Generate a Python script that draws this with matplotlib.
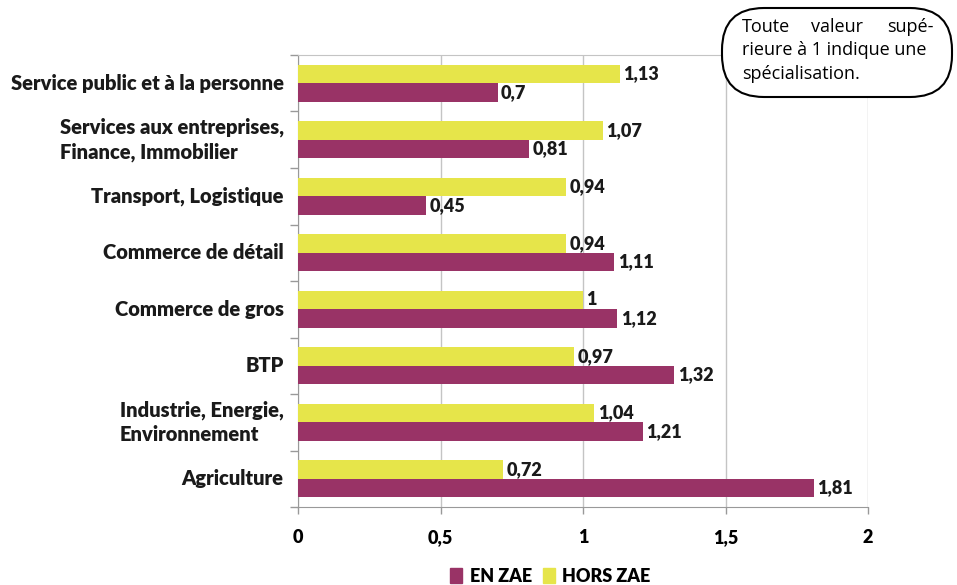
import matplotlib.pyplot as plt
from matplotlib.patches import FancyBboxPatch, Patch

categories = [
    "Service public et à la personne",
    "Services aux entreprises,\nFinance, Immobilier",
    "Transport, Logistique",
    "Commerce de détail",
    "Commerce de gros",
    "BTP",
    "Industrie, Energie,\nEnvironnement",
    "Agriculture",
]
hors_zae = [1.13, 1.07, 0.94, 0.94, 1, 0.97, 1.04, 0.72]
en_zae = [0.7, 0.81, 0.45, 1.11, 1.12, 1.32, 1.21, 1.81]
xticks = [0, 0.5, 1, 1.5, 2]
xtick_labels = ["0", "0,5", "1", "1,5", "2"]

MAGENTA = "#993366"
YELLOW = "#e6e54a"
GRID = "#c4c4c4"
FONT = ["Lato", "DejaVu Sans"]


def fmt(v: float) -> str:
    return f"{v:g}".replace(".", ",")


fig = plt.figure(figsize=(9.57, 5.85), dpi=100)
ax = fig.add_axes([0.3114, 0.1333, 0.5956, 0.7727])

h = 0.33
pos = list(range(len(categories)))
ax.barh([p - h / 2 for p in pos], hors_zae, height=h, color=YELLOW, zorder=3)
ax.barh([p + h / 2 for p in pos], en_zae, height=h, color=MAGENTA, zorder=3)

for p, v in zip(pos, hors_zae):
    ax.text(v + 0.012, p - h / 2, fmt(v), va="center", ha="left",
            fontsize=13, fontweight="heavy", family=FONT, color="#1a1a1a")
for p, v in zip(pos, en_zae):
    ax.text(v + 0.012, p + h / 2, fmt(v), va="center", ha="left",
            fontsize=13, fontweight="heavy", family=FONT, color="#1a1a1a")

ax.set_xlim(0, 2)
ax.set_ylim(len(categories) - 0.5, -0.5)
ax.set_xticks(xticks)
ax.set_xticklabels(xtick_labels, fontsize=13, fontweight="heavy", family=FONT)
ax.set_yticks(pos)
ax.set_yticklabels([])
ax.set_yticks([p - 0.5 for p in range(len(categories) + 1)], minor=True)
ax.tick_params(axis="y", which="major", length=0)
ax.tick_params(axis="y", which="minor", length=6, color="#999999", width=1)
ax.tick_params(axis="x", length=5, color="#999999", width=1, pad=11)

for p, c in zip(pos, categories):
    ax.text(-0.05, p, c, ha="right", va="center", multialignment="left",
            fontsize=14.5, fontweight="heavy", family=FONT, color="#1a1a1a",
            linespacing=1.3)

ax.grid(axis="x", color=GRID, linewidth=1, zorder=0)
ax.spines["right"].set_visible(False)
ax.spines["top"].set_color(GRID)
ax.spines["left"].set_color("#999999")
ax.spines["bottom"].set_color("#999999")

handles = [Patch(color=MAGENTA, label="EN ZAE"), Patch(color=YELLOW, label="HORS ZAE")]
fig.legend(handles=handles, loc="center", bbox_to_anchor=(0.575, 0.015), ncol=2,
           frameon=False, handlelength=0.7, handleheight=0.9, handletextpad=0.4,
           columnspacing=0.6, prop={"family": FONT, "weight": "heavy", "size": 13})

# note box, drawn in inches from the bottom-left corner
box = FancyBboxPatch((7.22, 4.88), 2.30, 0.89, transform=fig.dpi_scale_trans,
                     boxstyle="round,pad=0,rounding_size=0.42",
                     facecolor="white", edgecolor="black", linewidth=1.5, zorder=5)
fig.add_artist(box)
note_kw = dict(va="center", fontsize=13, family="Open Sans", zorder=6,
               transform=fig.dpi_scale_trans)
fig.text(7.42, 5.58, "Toute", ha="left", **note_kw)
fig.text(8.37, 5.58, "valeur", ha="center", **note_kw)
fig.text(9.34, 5.58, "supé-", ha="right", **note_kw)
fig.text(7.42, 5.35, "rieure à 1 indique une", ha="left", **note_kw)
fig.text(7.42, 5.11, "spécialisation.", ha="left", **note_kw)

fig.savefig("out.png", dpi=100)
